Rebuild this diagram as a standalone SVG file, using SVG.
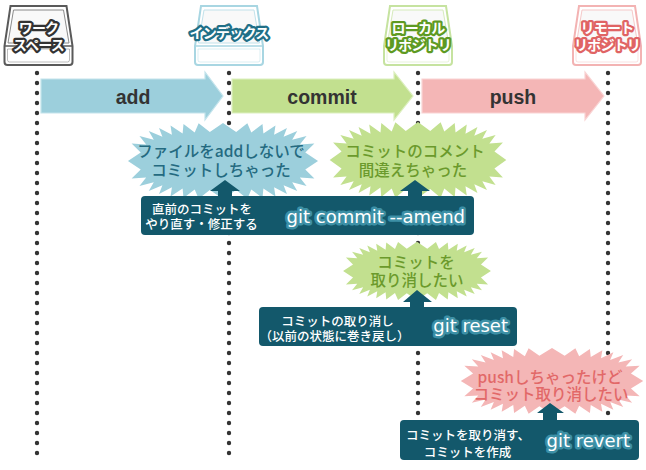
<svg xmlns="http://www.w3.org/2000/svg" xmlns:xlink="http://www.w3.org/1999/xlink" width="646" height="470" viewBox="0 0 646 470">
  <style>
    .dots { fill: none; stroke: #333; stroke-width: 4.4; stroke-linecap: round; stroke-dasharray: 0 10; }
    .tray-label { font-family: "Noto Sans CJK JP", sans-serif; font-weight: bold; font-size: 14px; fill: #fff; stroke-width: 4.5; stroke-linejoin: round; paint-order: stroke; text-anchor: middle; letter-spacing: -0.8px; }
    .step { font-family: "Liberation Sans", Arial, sans-serif; font-weight: bold; font-size: 19.5px; fill: #333; text-anchor: middle; }
    .bubble { font-family: "Noto Sans CJK JP", sans-serif; font-size: 15.5px; font-weight: 500; text-anchor: middle; }
    .note { font-family: "Noto Sans CJK JP", sans-serif; font-size: 12.5px; font-weight: 500; fill: #fff; text-anchor: middle; }
    .cmd { font-family: "DejaVu Sans", sans-serif; font-size: 18px; fill: #fff; stroke: #3d90a6; stroke-width: 5; stroke-linejoin: round; paint-order: stroke; text-anchor: end; }
    .panel { fill: #13586b; }
    .up { fill: #13586b; }
  </style>
  <defs>
    <!-- tray icon, drawn in currentColor -->
    <g id="tray">
      <path d="M-28,6 L28,6 L34,46 V62 Q34,65 31,65 H-31 Q-34,65 -34,62 V46 Z" fill="#fff" stroke="currentColor" stroke-width="2"/>
      <path d="M-25,10 H25 L30.5,43 H-30.5 Z" fill="#f7f7f7" stroke="currentColor" stroke-width="1" opacity="0.7"/>
      <path d="M-34,46 H34" fill="none" stroke="currentColor" stroke-width="1.5"/>
      <path d="M-31,49 H31 V60 Q31,62 29,62 H-29 Q-31,62 -31,60 Z" fill="none" stroke="currentColor" stroke-width="0.8" opacity="0.5"/>
    </g>
    <!-- starburst speech shape, half-extents 96 x 38 -->
    <path id="burst" d="M96,0 L83.1,8.6 92.3,17.4 77.6,16.6 84.4,25.1 69.9,21.2 75,29.9 61.2,24.2 64.6,33.1 51.6,26.2 53,35.4 40.8,27.6 39.9,36.9 28.6,28.5 24.6,37.7 13.3,28.9 0,38 -13.3,28.9 -24.6,37.7 -28.6,28.5 -39.9,36.9 -40.8,27.6 -53,35.4 -51.6,26.2 -64.6,33.1 -61.2,24.2 -75,29.9 -69.9,21.2 -84.4,25.1 -77.6,16.6 -92.3,17.4 -83.1,8.6 -96,0 -83.1,-8.6 -92.3,-17.4 -77.6,-16.6 -84.4,-25.1 -69.9,-21.2 -75,-29.9 -61.2,-24.2 -64.6,-33.1 -51.6,-26.2 -53,-35.4 -40.8,-27.6 -39.9,-36.9 -28.6,-28.5 -24.6,-37.7 -13.3,-28.9 0,-38 13.3,-28.9 24.6,-37.7 28.6,-28.5 39.9,-36.9 40.8,-27.6 53,-35.4 51.6,-26.2 64.6,-33.1 61.2,-24.2 75,-29.9 69.9,-21.2 84.4,-25.1 77.6,-16.6 92.3,-17.4 83.1,-8.6 Z"/>
  </defs>

  <rect width="646" height="470" fill="#fff"/>

  <!-- lifelines -->
  <g id="lifelines">
    <line class="dots" x1="37" y1="73" x2="37" y2="463"/>
    <line class="dots" x1="229" y1="73" x2="229" y2="463"/>
    <line class="dots" x1="418" y1="73" x2="418" y2="463"/>
    <line class="dots" x1="608" y1="73" x2="608" y2="463"/>
  </g>

  <!-- areas -->
  <g id="workspace">
    <use xlink:href="#tray" href="#tray" transform="translate(38.5,0)" style="color:#5a5a5a"/>
    <text class="tray-label" stroke="#333"><tspan x="38.5" y="33">ワーク</tspan><tspan x="38.5" y="50">スペース</tspan></text>
  </g>
  <g id="index">
    <use xlink:href="#tray" href="#tray" transform="translate(229,0)" style="color:#a8d6e2"/>
    <text class="tray-label" x="229" y="38" stroke="#1f6f87">インデックス</text>
  </g>
  <g id="local-repo">
    <use xlink:href="#tray" href="#tray" transform="translate(418,0)" style="color:#c6e3a0"/>
    <text class="tray-label" stroke="#5e9a22"><tspan x="418" y="33">ローカル</tspan><tspan x="418" y="50">リポジトリ</tspan></text>
  </g>
  <g id="remote-repo">
    <use xlink:href="#tray" href="#tray" transform="translate(607,0)" style="color:#f3b3b3"/>
    <text class="tray-label" stroke="#e06464"><tspan x="607" y="33">リモート</tspan><tspan x="607" y="50">リポジトリ</tspan></text>
  </g>

  <!-- problems -->
  <g id="issue-add-missed">
    <use xlink:href="#burst" href="#burst" transform="translate(223,161) scale(0.99,1)" fill="#9ccfdc"/>
    <text class="bubble" fill="#246a80"><tspan x="221" y="157">ファイルをaddしないで</tspan><tspan x="221" y="176">コミットしちゃった</tspan></text>
  </g>
  <g id="issue-message">
    <use xlink:href="#burst" href="#burst" transform="translate(418,160) scale(0.92,1)" fill="#c2e08f"/>
    <text class="bubble" fill="#6b9a2c"><tspan x="415" y="157">コミットのコメント</tspan><tspan x="413" y="176">間違えちゃった</tspan></text>
  </g>
  <g id="issue-undo">
    <use xlink:href="#burst" href="#burst" transform="translate(417,271) scale(0.77,0.77)" fill="#c2e08f"/>
    <text class="bubble" fill="#6b9a2c"><tspan x="416" y="268">コミットを</tspan><tspan x="417" y="286">取り消したい</tspan></text>
  </g>
  <g id="issue-pushed">
    <use xlink:href="#burst" href="#burst" transform="translate(552,381) scale(0.95,0.87)" fill="#f4b6b6"/>
    <text class="bubble" fill="#e26868"><tspan x="550" y="383">pushしちゃったけど</tspan><tspan x="551" y="400">コミット取り消したい</tspan></text>
  </g>

  <!-- step arrows and pointers -->
  <g id="connectors">
    <g id="step-add">
      <path d="M41,79 H205 V72 L223,96 L205,120 V113 H41 Z" fill="#9ccfdc" stroke="#c4e4ec" stroke-width="1.2"/>
      <text class="step" x="133" y="104">add</text>
    </g>
    <g id="step-commit">
      <path d="M232,79 H394 V72 L413,96 L394,120 V113 H232 Z" fill="#c2e08f" stroke="#dcefbf" stroke-width="1.2"/>
      <text class="step" x="322" y="104">commit</text>
    </g>
    <g id="step-push">
      <path d="M422,79 H585 V72 L604,96 L585,120 V113 H422 Z" fill="#f4b6b6" stroke="#f9d4d4" stroke-width="1.2"/>
      <text class="step" x="513" y="104">push</text>
    </g>
    <polygon class="up" points="225,180 240,191 232,191 232,198 218,198 218,191 210,191"/>
    <polygon class="up" points="415,180 430,191 422,191 422,198 408,198 408,191 400,191"/>
    <polygon class="up" points="417,290 432,302 424,302 424,308 410,308 410,302 403,302"/>
    <polygon class="up" points="550,403 564,413 557,413 557,421 543,421 543,413 537,413"/>
  </g>

  <!-- remedies -->
  <g id="fix-amend">
    <rect class="panel" x="141" y="196" width="333" height="39" rx="4"/>
    <text class="note"><tspan x="202" y="214">直前のコミットを</tspan><tspan x="201.5" y="229">やり直す・修正する</tspan></text>
    <text class="cmd" x="465" y="223">git commit --amend</text>
  </g>
  <g id="fix-reset">
    <rect class="panel" x="259" y="307" width="258" height="39" rx="4"/>
    <text class="note"><tspan x="337.5" y="326">コミットの取り消し</tspan><tspan x="334.5" y="341">（以前の状態に巻き戻し）</tspan></text>
    <text class="cmd" x="508" y="332">git reset</text>
  </g>
  <g id="fix-revert">
    <rect class="panel" x="400" y="420" width="239" height="40" rx="4"/>
    <text class="note"><tspan x="468" y="440">コミットを取り消す、</tspan><tspan x="467.5" y="457">コミットを作成</tspan></text>
    <text class="cmd" x="630" y="447">git revert</text>
  </g>
</svg>
